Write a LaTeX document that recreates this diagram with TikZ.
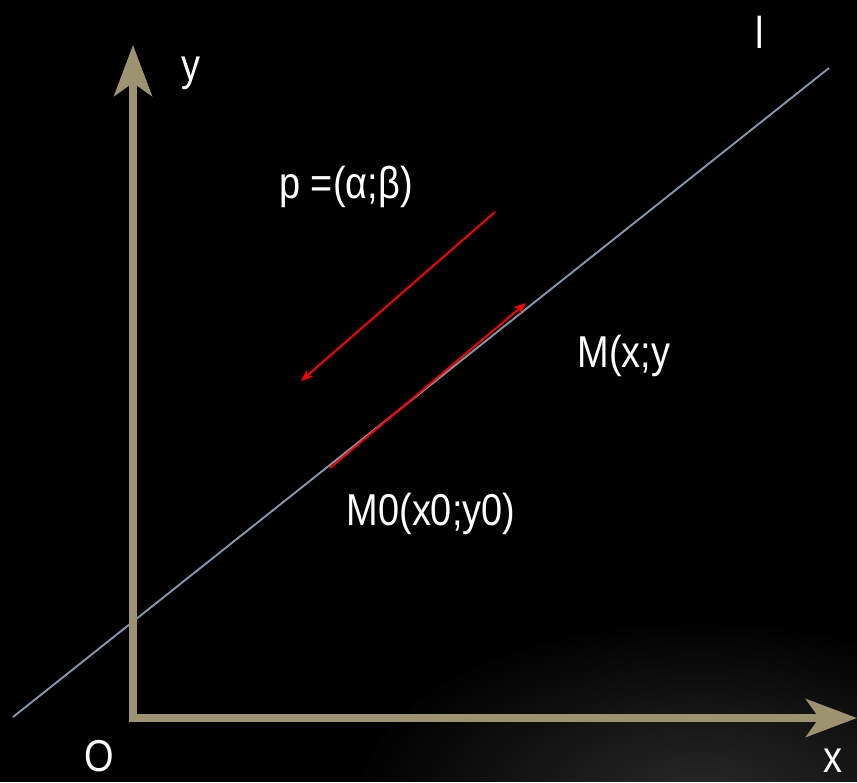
\documentclass[tikz,border=0pt]{standalone}
\usepackage{fontspec}
\setmainfont{Liberation Sans}[FakeStretch=0.85]
\usepackage{xcolor}
\usetikzlibrary{positioning,arrows.meta}
\definecolor{axiscol}{RGB}{157,147,113}
\definecolor{linecol}{RGB}{128,150,170}
\tikzset{
  axis/.style={draw=axiscol, line width=4.5pt, line cap=rect, -{Stealth[length=29pt, width=21.5pt, inset=7.5pt]}},
  lline/.style={draw=linecol, line width=1.1pt},
  vecarrow/.style={draw=red, line width=1.1pt, -{Stealth[length=7pt, width=5.5pt]}},
  lbl/.style={text=white, anchor=base, inner sep=0pt, font=\fontsize{25.4}{30}\selectfont}
}
\begin{document}
\begin{tikzpicture}[x=0.02cm,y=-0.02cm]
\useasboundingbox (0,0) rectangle (857,782);
\begin{scope}
\clip (0,0) rectangle (857,782);
\fill[black] (0,0) rectangle (857,782);
\foreach \r in {1,...,40}
  \fill[white, opacity=0.0095] (700,800) ellipse [x radius=8.5*\r, y radius=4.4*\r];
\end{scope}
% points
\coordinate (O) at (133,718);
\coordinate (Ytip) at (133,45);
\coordinate (Xtip) at (857,718);
\coordinate (L1) at (13,717);
\coordinate (L2) at (829,68);
\coordinate (P1) at (495,212);
\coordinate (P2) at (301,381);
\coordinate (V1) at (330,468);
\coordinate (V2) at (526,303);
% line l and axes
\draw[lline] (L1) -- (L2);
\draw[axis] (O) -- (Xtip);
\draw[axis] (O) -- (Ytip);
\draw[vecarrow] (P1) -- (P2);
\draw[vecarrow] (V1) -- (V2);
% labels
\node[lbl] (ylab) at (191,80) {y};
\node[lbl] (llab) at (760,48) {l};
\node[lbl] (plab) at (346,198) {p =(α;β)};
\node[lbl] (mlab) at (624,367) {M(x;y};
\node[lbl] (mzlab) at (431,525) {M0(x0;y0)};
\node[lbl] (olab) at (99,771) {O};
\node[lbl] (xlab) at (833,772) {x};
\end{tikzpicture}
\end{document}
